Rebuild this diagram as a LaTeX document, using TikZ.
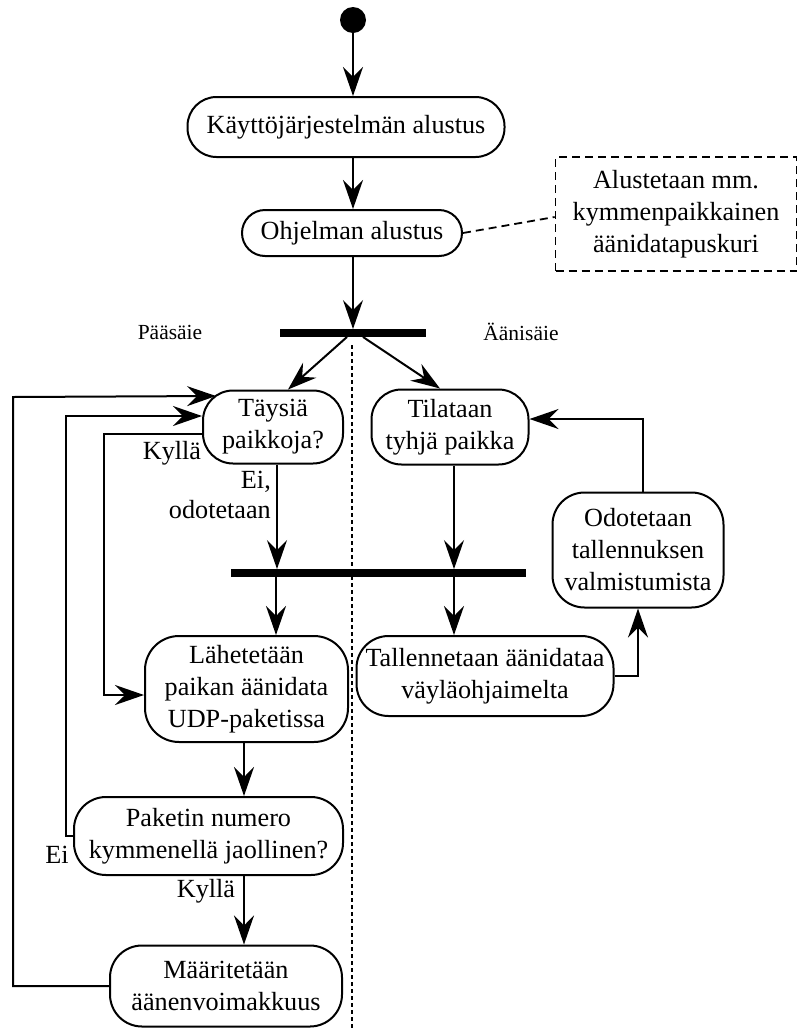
\documentclass[tikz,border=0pt]{standalone}
\usepackage{fontspec}
\setmainfont{Liberation Serif}
\usetikzlibrary{arrows.meta,calc}

\begin{document}
\begin{tikzpicture}[x=1pt,y=-1pt,
  every node/.style={font=\fontsize{26.2}{32}\selectfont},
  act/.style={draw, line width=2pt, rounded corners=#1, align=center, inner sep=0pt},
  act/.default=28pt,
  bar/.style={fill=black, inner sep=0pt, minimum height=7.5pt},
  arr/.style={line width=2pt, -{Stealth[length=29pt,width=20pt,inset=10pt]}},
  link/.style={line width=1.8pt},
  note/.style={draw, dash pattern=on 8pt off 5pt, line width=1.6pt, align=center, inner sep=0pt},
  lane/.style={font=\fontsize{21.5}{26}\selectfont},
  lbl/.style={inner sep=0pt}
]
\useasboundingbox (0,0) rectangle (798,1029);

% start point
\node[circle, fill=black, minimum size=26pt, inner sep=0pt] (start) at (353,20) {};

% actions
\node[act=29pt, minimum width=317pt, minimum height=60pt] (kay) at (346,127) {Käyttöjärjestelmän alustus};
\node[act=23pt, minimum width=220pt, minimum height=46pt] (ohj) at (352,233) {Ohjelman alustus};
\node[note, minimum width=241pt, minimum height=114pt] (memo) at (676,214) {Alustetaan mm.\\kymmenpaikkainen\\äänidatapuskuri};

\node[bar, minimum width=146pt] (fork1) at (353,333) {};
\node[bar, minimum width=295pt] (fork2) at (378.5,573) {};

\node[act=30pt, minimum width=140pt, minimum height=73pt] (tays) at (273,427) {Täysiä\\paikkoja?};
\node[act=30pt, minimum width=157pt, minimum height=75pt] (tila) at (450,427) {Tilataan\\tyhjä paikka};
\node[act=32pt, minimum width=171pt, minimum height=115pt] (odot) at (638,550) {Odotetaan\\tallennuksen\\valmistumista};
\node[act=34pt, minimum width=203pt, minimum height=106pt] (lah) at (246.5,689) {Lähetetään\\paikan äänidata\\UDP-paketissa};
\node[act=32pt, minimum width=257pt, minimum height=80pt] (tall) at (485,676) {Tallennetaan äänidataa\\väyläohjaimelta};
\node[act=32pt, minimum width=269pt, minimum height=78pt] (pak) at (208.5,836) {Paketin numero\\kymmenellä jaollinen?};
\node[act=32pt, minimum width=232pt, minimum height=81pt] (maar) at (226,986) {Määritetään\\äänenvoimakkuus};

% swimlane titles and divider
\node[lane] (lmain) at (170,332) {Pääsäie};
\node[lane] (laudio) at (521,332) {Äänisäie};
\coordinate (laneTop) at (352,345);
\coordinate (laneBot) at (352,1029);
\draw[line width=1.5pt, dash pattern=on 4pt off 3pt] (laneTop) -- (laneBot);

% guard labels
\node[lbl] (kyl1) at (172,453) {Kyllä};
\node[lbl, align=right, anchor=east, font=\fontsize{26.2}{30}\selectfont] (eiod) at (271,495) {Ei,\\odotetaan};
\node[lbl] (ei2) at (57,855) {Ei};
\node[lbl] (kyl2) at (206,891) {Kyllä};

% flow
\draw[arr] (start) -- (start |- kay.north);
\draw[arr] (kay.south -| start) -- (ohj.north -| start);
\draw[link, dash pattern=on 8pt off 5pt] (ohj.east) -- ([yshift=-3pt]memo.west);
\draw[arr] (ohj.south -| start) -- (fork1.north -| start);
\draw[arr] ([xshift=-6pt]fork1.south) -- ([xshift=15pt]tays.north);
\draw[arr] ([xshift=10pt]fork1.south) -- ([xshift=-10pt]tila.north);
\draw[arr] ([xshift=4pt]tays.south) -- ([xshift=4pt]tays.south |- fork2.north);
\draw[arr] ([xshift=4pt]tila.south) -- ([xshift=4pt]tila.south |- fork2.north);
\draw[arr] (fork2.south -| 276,0) -- (lah.north -| 276,0);
\draw[arr] (fork2.south -| 454,0) -- (tall.north -| 454,0);
\draw[arr] (tall.east) -| (odot.south);
\draw[arr] ([xshift=5pt]odot.north) |- ([yshift=8pt]tila.east);
\draw[arr] (lah.south -| 244,0) -- (pak.north -| 244,0);
\draw[arr] (pak.south -| 244,0) -- (maar.north -| 244,0);

% loops back in the main thread
\draw[arr] ([yshift=-7pt]tays.west) -- ++(-98,0) |- ([yshift=-6pt]lah.west);
\draw[arr] (pak.west) -- ++(-7,0) |- ([yshift=11pt]tays.west);
\draw[arr] (maar.west) -| (13,397) -- ($(tays.north west)+(14,6.5)$);
\end{tikzpicture}
\end{document}
